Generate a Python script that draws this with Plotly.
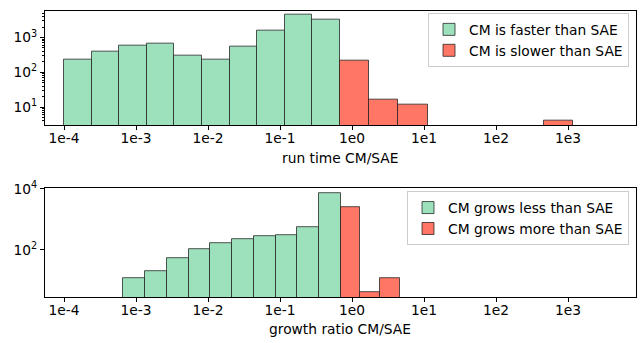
import numpy as np
import plotly.graph_objects as go

# ---- data ----
# run time CM/SAE histograms (log10 bin range, bin counts)
run_fast_range = (-4.0, -0.167)
run_fast_counts = [225, 395, 570, 661, 311, 225, 546, 1571, 4405, 3314]
run_slow_range = (-0.167, 3.074)
run_slow_counts = [217, 16, 12, 0, 0, 0, 0, 4]

# growth ratio CM/SAE histograms
grow_less_range = (-3.176, -0.157)
grow_less_counts = [12, 20, 51, 107, 163, 219, 273, 294, 571, 7400]
grow_more_range = (-0.157, 0.667)
grow_more_counts = [2570, 4, 12]

x_tick_vals = [-4, -3, -2, -1, 0, 1, 2, 3]
x_tick_text = ["1e-4", "1e-3", "1e-2", "1e-1", "1e0", "1e1", "1e2", "1e3"]

GREEN = "#9de0bc"
RED = "#ff7664"
EDGE = "rgba(30,30,30,0.75)"
FONT = "DejaVu Sans"
FS = 13.8


def bars(rng, counts, color, name, xa, ya, legend):
    n = len(counts)
    edges = np.linspace(rng[0], rng[1], n + 1)
    centers = (edges[:-1] + edges[1:]) / 2
    widths = np.diff(edges)
    y = [c if c > 0 else None for c in counts]
    return go.Bar(x=centers, y=y, width=widths, name=name,
                  marker=dict(color=color, line=dict(color=EDGE, width=1)),
                  xaxis=xa, yaxis=ya, legend=legend)


fig = go.Figure()
fig.add_trace(bars(run_fast_range, run_fast_counts, GREEN, "CM is faster than SAE", "x", "y", "legend"))
fig.add_trace(bars(run_slow_range, run_slow_counts, RED, "CM is slower than SAE", "x", "y", "legend"))
fig.add_trace(bars(grow_less_range, grow_less_counts, GREEN, "CM grows less than SAE", "x2", "y2", "legend2"))
fig.add_trace(bars(grow_more_range, grow_more_counts, RED, "CM grows more than SAE", "x2", "y2", "legend2"))

W, H = 643, 343
xdom = [45 / W, 635.7 / W]
xcommon = dict(range=[-4.264, 3.94], tickvals=x_tick_vals, ticktext=x_tick_text,
               showgrid=False, zeroline=False, showline=True, linecolor="black",
               linewidth=1, mirror=True, ticks="outside", ticklen=4, tickcolor="black",
               ticklabelstandoff=-4,
               tickfont=dict(family=FONT, size=FS, color="black"), domain=xdom)
ycommon = dict(type="log", showgrid=False, zeroline=False, showline=True,
               linecolor="black", linewidth=1, mirror=True, ticks="outside",
               ticklen=4, tickcolor="black",
               tickfont=dict(family=FONT, size=FS, color="black"))

fig.update_layout(
    width=W, height=H, margin=dict(l=0, r=0, t=0, b=0),
    plot_bgcolor="white", paper_bgcolor="white", bargap=0,
    font=dict(family=FONT, size=FS, color="black"),
    xaxis=dict(**xcommon, anchor="y"),
    xaxis2=dict(**xcommon, anchor="y2"),
    yaxis=dict(**ycommon, domain=[1 - 119.3 / H, 1 - 1.7 / H], range=[0.479, 3.773],
               tickvals=[10, 100, 1000], ticktext=["10<sup>1</sup>", "10<sup>2</sup>", "10<sup>3</sup>"],
               minor=dict(ticks="outside", ticklen=2, tickcolor="black", showgrid=False,
                          tickvals=[m * 10 ** e for e in range(0, 4) for m in range(2, 10)]),
               anchor="x"),
    yaxis2=dict(**ycommon, domain=[1 - 296 / H, 1 - 184 / H], range=[0.4375, 4.025],
                tickvals=[100, 10000], ticktext=["10<sup>2</sup>", "10<sup>4</sup>"],
                anchor="x2"),
    legend=dict(x=629 / W, xanchor="right", y=1 - 4 / H, yanchor="top",
                bgcolor="white", bordercolor="#cccccc", borderwidth=1,
                font=dict(family=FONT, size=FS), tracegroupgap=0),
    legend2=dict(x=629 / W, xanchor="right", y=1 - 187 / H, yanchor="top",
                 bgcolor="white", bordercolor="#cccccc", borderwidth=1,
                 font=dict(family=FONT, size=FS), tracegroupgap=0),
    showlegend=True,
    annotations=[
        dict(text="run time CM/SAE", x=340.3 / W, y=1 - 153 / H, xref="paper", yref="paper",
             showarrow=False, xanchor="center", yanchor="middle",
             font=dict(family=FONT, size=FS, color="black")),
        dict(text="growth ratio CM/SAE", x=340.3 / W, y=1 - 329 / H, xref="paper", yref="paper",
             showarrow=False, xanchor="center", yanchor="middle",
             font=dict(family=FONT, size=FS, color="black")),
    ],
)

fig.write_html("out.html")
